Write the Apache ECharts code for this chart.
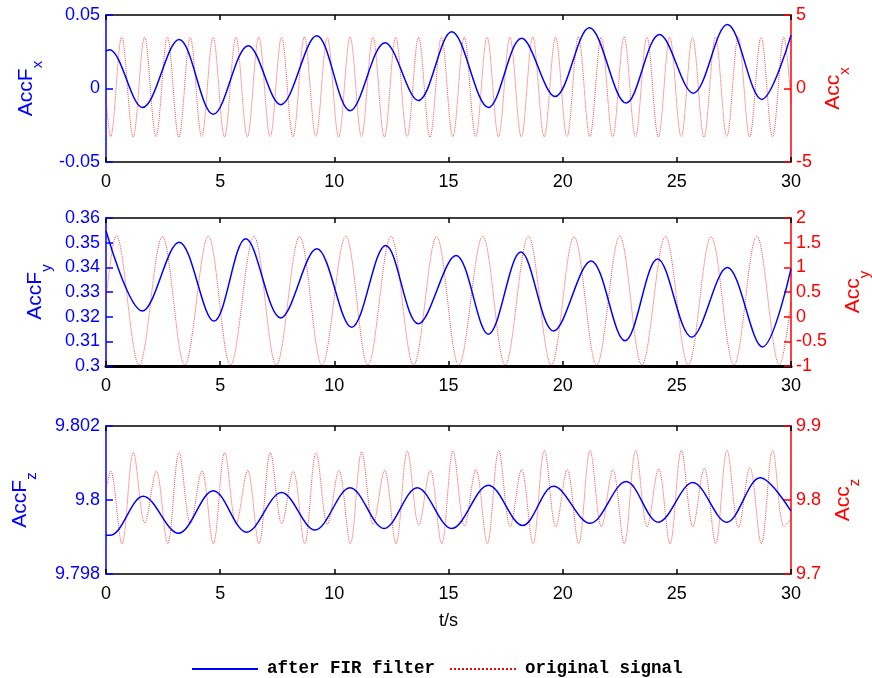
<!DOCTYPE html>
<html>
<head>
<meta charset="utf-8">
<title>FIR filter</title>
<script src="https://cdn.jsdelivr.net/npm/echarts@6.0.0/dist/echarts.min.js"></script>
<style>
  html, body { margin: 0; padding: 0; background: #fff; }
  #main { width: 872px; height: 678px; }
</style>
</head>
<body>
<div id="main"></div>
<script>
// x 轴: t/s
const xTicks = [0, 5, 10, 15, 20, 25, 30];

// ---- 面板1: AccF_x / Acc_x
const tBlue1 = [0, 0.15, 1.6, 3.2, 4.7, 6.23, 7.65, 9.23, 10.69, 12.22, 13.68, 15.14, 16.75, 18.2, 19.67, 21.17, 22.78, 24.24, 25.72, 27.21, 28.72, 30];
const blue1 = [0.0255, 0.0263, -0.0129, 0.0334, -0.0176, 0.0291, -0.011, 0.0359, -0.0151, 0.0312, -0.0081, 0.0386, -0.0129, 0.0341, -0.0054, 0.0413, -0.0099, 0.0368, -0.0032, 0.0436, -0.0074, 0.0363];
const tRed1 = [0, 0.2, 0.69, 1.19, 1.69, 2.19, 2.69, 3.19, 3.69, 4.19, 4.69, 5.19, 5.69, 6.19, 6.69, 7.19, 7.69, 8.19, 8.69, 9.19, 9.69,
  10.19, 10.69, 11.19, 11.69, 12.19, 12.69, 13.19, 13.69, 14.19, 14.69, 15.19, 15.69, 16.19, 16.69, 17.19, 17.69, 18.19, 18.69, 19.19, 19.69,
  20.19, 20.69, 21.19, 21.69, 22.19, 22.69, 23.19, 23.69, 24.19, 24.69, 25.19, 25.69, 26.19, 26.69, 27.19, 27.69, 28.19, 28.69, 29.19, 29.69, 30];
const red1 = [-0.6, -3.27, 3.52, -3.28, 3.48, -3.27, 3.5, -3.3, 3.47, -3.27, 3.5, -3.28, 3.49, -3.3, 3.5, -3.27, 3.48, -3.28, 3.5, -3.27, 3.47,
  -3.3, 3.5, -3.27, 3.49, -3.28, 3.5, -3.27, 3.48, -3.3, 3.5, -3.27, 3.49, -3.28, 3.5, -3.27, 3.47, -3.3, 3.5, -3.27, 3.49,
  -3.28, 3.5, -3.27, 3.48, -3.3, 3.5, -3.27, 3.49, -3.28, 3.5, -3.27, 3.47, -3.3, 3.5, -3.27, 3.49, -3.28, 3.5, -3.27, 3.48, -1.0];

// ---- 面板2: AccF_y / Acc_y
const tBlue2 = [0, 1.6, 3.2, 4.73, 6.12, 7.65, 9.23, 10.76, 12.25, 13.68, 15.33, 16.75, 18.17, 19.6, 21.24, 22.73, 24.16, 25.65, 27.21, 28.75, 30];
const blue2 = [0.3548, 0.3223, 0.3502, 0.3182, 0.3516, 0.3195, 0.3475, 0.3157, 0.3489, 0.3171, 0.3448, 0.3129, 0.3462, 0.3142, 0.3426, 0.3102, 0.3434, 0.3117, 0.3399, 0.3077, 0.3394];
const tRed2 = [0, 0.45, 1.45, 2.47, 3.45, 4.48, 5.45, 6.48, 7.46, 8.48, 9.46, 10.5, 11.47, 12.48, 13.47, 14.48, 15.45,
  16.5, 17.48, 18.5, 19.5, 20.5, 21.49, 22.5, 23.47, 24.5, 25.5, 26.5, 27.5, 28.5, 29.5, 30];
const red2 = [0.35, 1.64, -0.98, 1.62, -0.98, 1.63, -0.98, 1.63, -0.98, 1.62, -0.98, 1.63, -0.98, 1.63, -0.98, 1.62, -0.98,
  1.63, -0.98, 1.63, -0.98, 1.62, -0.98, 1.63, -0.98, 1.63, -0.98, 1.62, -0.98, 1.63, -0.98, 0.3];

// ---- 面板3: AccF_z / Acc_z
const tBlue3 = [0, 0.2, 1.63, 3.17, 4.7, 6.16, 7.69, 9.15, 10.69, 12.18, 13.63, 15.14, 16.75, 18.25, 19.6, 21.2, 22.78, 24.19, 25.7, 27.18, 28.65, 30];
const blue3 = [9.79905, 9.79905, 9.8001, 9.7991, 9.80025, 9.79913, 9.8002, 9.79919, 9.80033, 9.79923, 9.80033, 9.79923, 9.8004, 9.79931, 9.80037, 9.79937, 9.8005, 9.7994, 9.80047, 9.7994, 9.8006, 9.7997];
const tRed3 = [0, 0.2, 0.7, 1.2, 1.7, 2.2, 2.7, 3.2, 3.7, 4.2, 4.7, 5.2, 5.7, 6.2, 6.7, 7.2, 7.7, 8.2, 8.7, 9.2, 9.7,
  10.2, 10.7, 11.2, 11.7, 12.2, 12.7, 13.2, 13.7, 14.2, 14.7, 15.2, 15.7, 16.2, 16.7, 17.2, 17.7, 18.2, 18.7, 19.2, 19.7,
  20.2, 20.7, 21.2, 21.7, 22.2, 22.7, 23.2, 23.7, 24.2, 24.7, 25.2, 25.7, 26.2, 26.7, 27.2, 27.7, 28.2, 28.7, 29.2, 29.7, 30];
const red3 = [9.8135, 9.839, 9.741, 9.864, 9.769, 9.839, 9.741, 9.864, 9.768, 9.839, 9.741, 9.864, 9.768, 9.84, 9.741, 9.864, 9.768, 9.839, 9.741, 9.864, 9.767,
  9.84, 9.741, 9.865, 9.767, 9.84, 9.741, 9.866, 9.766, 9.84, 9.741, 9.866, 9.765, 9.841, 9.741, 9.867, 9.764, 9.841, 9.741, 9.867, 9.764,
  9.841, 9.741, 9.867, 9.764, 9.841, 9.741, 9.867, 9.764, 9.842, 9.741, 9.867, 9.764, 9.843, 9.741, 9.867, 9.763, 9.844, 9.741, 9.867, 9.764, 9.775];

const BLUE = '#0000ff';
const RED = '#ff0000';
const FONT = 'Liberation Sans';

function pairs(t, v) {
    return t.map(function (x, i) { return [x, v[i]]; });
}

let chart = echarts.init(document.getElementById('main'), null, { renderer: 'canvas' });

// outerBoundsMode none: 三个面板宽度一致, 不因右侧标签收缩
let grids = [
    { left: 106, right: 81, top: 15, height: 147, outerBoundsMode: 'none' },
    { left: 106, right: 81, top: 218, height: 148, outerBoundsMode: 'none' },
    { left: 106, right: 81, top: 426, height: 148, outerBoundsMode: 'none' }
];

// 每个面板: 下 x 轴 + 上 x 轴(只画框和刻度)
let xAxes = [];
grids.forEach(function (g, i) {
    xAxes.push({
        type: 'value', gridIndex: i, min: xTicks[0], max: xTicks[xTicks.length - 1], interval: 5,
        position: 'bottom',
        name: i === 2 ? 't/s' : '',
        nameLocation: 'middle', nameGap: 38,
        nameTextStyle: { color: '#000', fontFamily: FONT, fontSize: 18 },
        axisLine: { show: true, onZero: false, lineStyle: { color: '#000', width: i === 1 ? 3 : 1.5 } },
        axisTick: { show: true, inside: true, length: 5, lineStyle: { color: '#000', width: 1.5 } },
        axisLabel: { color: '#000', fontFamily: FONT, fontSize: 18, margin: 11 },
        splitLine: { show: false }
    });
    xAxes.push({
        type: 'value', gridIndex: i, min: 0, max: 30, interval: 5,
        position: 'top',
        axisLine: { show: true, onZero: false, lineStyle: { color: '#000', width: 1.5 } },
        axisTick: { show: true, inside: true, length: 5, lineStyle: { color: '#000', width: 1.5 } },
        axisLabel: { show: false },
        splitLine: { show: false }
    });
});

function yAxis(i, side, min, max, step, sub, gap) {
    let c = side === 'left' ? BLUE : RED;
    let label = side === 'left' ? 'AccF' : 'Acc';
    return {
        type: 'value', gridIndex: i, position: side, min: min, max: max, interval: step,
        name: '{m|' + label + '}{s|' + sub + '}',
        nameLocation: 'middle', nameGap: gap, nameRotate: 90,
        nameTextStyle: {
            rich: {
                m: { color: c, fontFamily: FONT, fontSize: 21, lineHeight: 24, verticalAlign: 'top' },
                s: { color: c, fontFamily: FONT, fontSize: 15, lineHeight: 14, padding: [14, 0, 0, 0], verticalAlign: 'top' }
            }
        },
        axisLine: { show: true, onZero: false, lineStyle: { color: c, width: 1.5 } },
        axisTick: { show: true, inside: true, length: 7, lineStyle: { color: c, width: 1.5 } },
        axisLabel: { color: c, fontFamily: FONT, fontSize: 18, margin: side === 'left' ? 6 : 5 },
        splitLine: { show: false }
    };
}

let yAxes = [
    yAxis(0, 'left', -0.05, 0.05, 0.05, 'x', 66),
    yAxis(0, 'right', -5, 5, 5, 'x', 32),
    yAxis(1, 'left', 0.3, 0.36, 0.01, 'y', 57),
    yAxis(1, 'right', -1, 2, 0.5, 'y', 52),
    yAxis(2, 'left', 9.798, 9.802, 0.002, 'z', 72),
    yAxis(2, 'right', 9.7, 9.9, 0.1, 'z', 42)
];

function redLine(i, data) {
    return {
        name: 'original signal', type: 'line', xAxisIndex: i * 2, yAxisIndex: i * 2 + 1,
        data: data, symbol: 'none', smooth: 0.35,
        lineStyle: { color: RED, width: 1, type: 'dotted', opacity: 0.7 },
        itemStyle: { color: RED }
    };
}
function blueLine(i, data) {
    return {
        name: 'after FIR filter', type: 'line', xAxisIndex: i * 2, yAxisIndex: i * 2,
        data: data, symbol: 'none', smooth: 0.35,
        lineStyle: { color: BLUE, width: 1.5 },
        itemStyle: { color: BLUE }
    };
}

var option = {
    backgroundColor: '#fff',
    animation: false,
    grid: grids,
    xAxis: xAxes,
    yAxis: yAxes,
    legend: {
        data: ['after FIR filter', 'original signal'],
        left: 186, top: 655,
        itemWidth: 66, itemHeight: 16, itemGap: 14,
        itemStyle: { opacity: 0 },
        lineStyle: { opacity: 1 },
        textStyle: { color: '#000', fontFamily: 'Liberation Mono', fontWeight: 'bold', fontSize: 17.5, padding: [0, 0, 0, 4] }
    },
    series: [
        redLine(0, pairs(tRed1, red1)),
        blueLine(0, pairs(tBlue1, blue1)),
        redLine(1, pairs(tRed2, red2)),
        blueLine(1, pairs(tBlue2, blue2)),
        redLine(2, pairs(tRed3, red3)),
        blueLine(2, pairs(tBlue3, blue3))
    ]
};

chart.setOption(option);
</script>
</body>
</html>
